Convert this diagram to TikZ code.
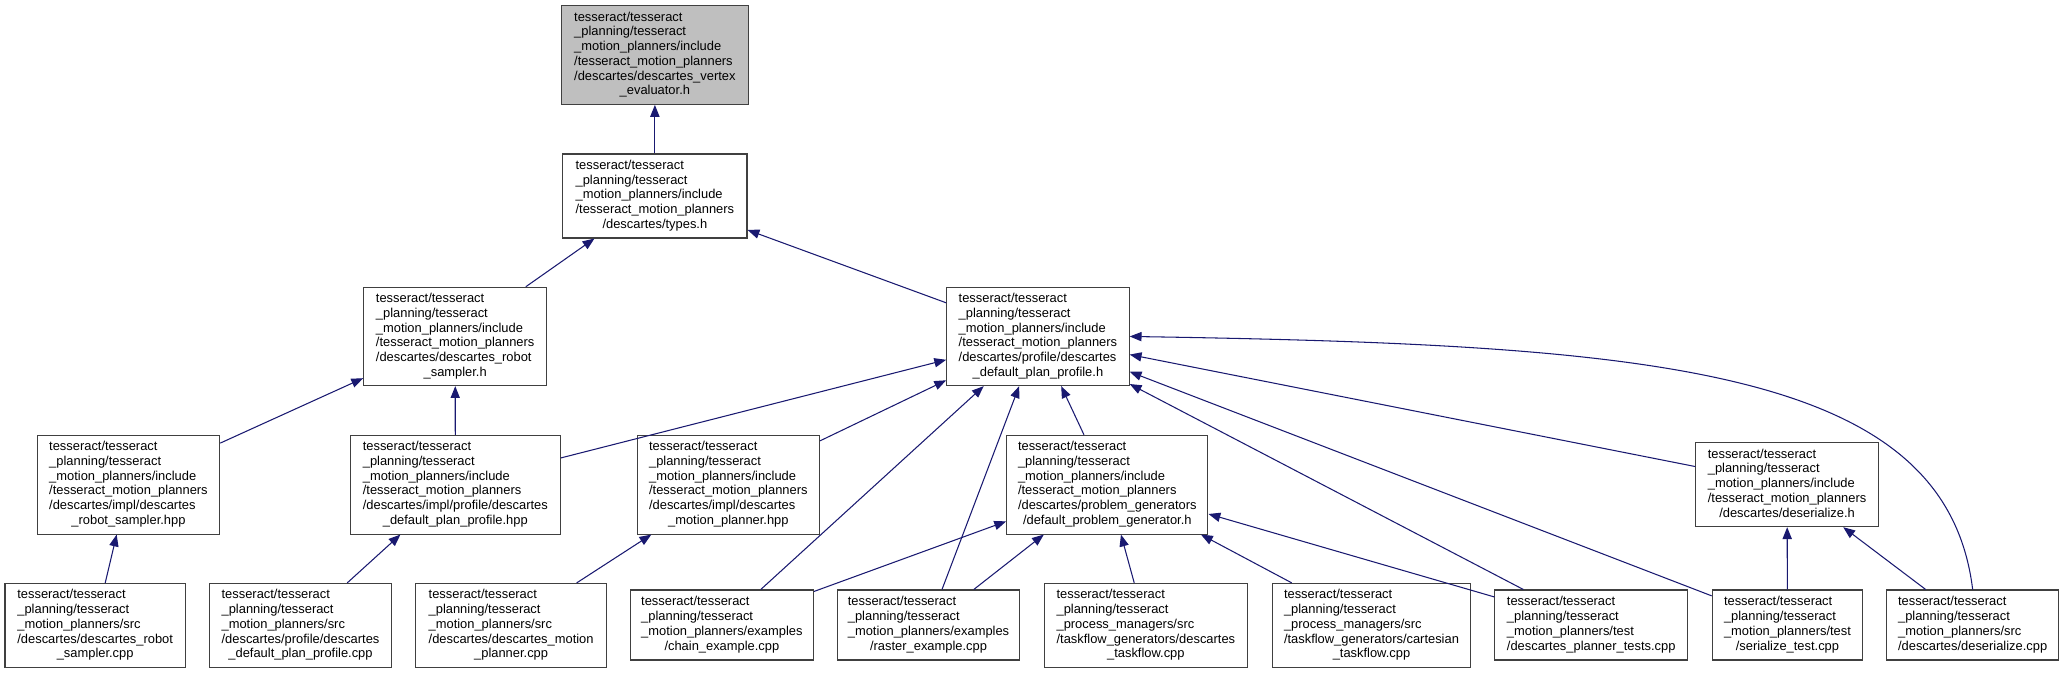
\documentclass[tikz,border=0pt]{standalone}
\usepackage{fontspec}
\setmainfont{Liberation Sans}
\usetikzlibrary{arrows.meta}
\definecolor{edgeblue}{HTML}{191970}
\definecolor{boxline}{HTML}{404040}
\definecolor{curfile}{HTML}{BFBFBF}
\newcommand{\flabel}[2]{\begin{tabular}{@{}l@{}}#1\\\multicolumn{1}{@{}c@{}}{#2}\end{tabular}}

\begin{document}
\begin{tikzpicture}[x=1pt, y=-1pt, font=\fontsize{9.8}{11.2}\selectfont]
    \tikzstyle{file} = [rectangle, draw=boxline, line width=0.8pt, fill=white, inner sep=0pt]
    \tikzstyle{inc} = [draw=edgeblue, line width=0.8pt, -{Triangle[length=9pt,width=7pt]}]

    \useasboundingbox (0,0) rectangle (1568,511);

    \node [file, fill=curfile, minimum width=141.8pt, minimum height=75pt] (evaluator) at (497.5,41.8) {\flabel{tesseract/tesseract\\\_planning/tesseract\\\_motion\_planners/include\\/tesseract\_motion\_planners\\/descartes/descartes\_vertex}{\_evaluator.h}};
    \node [file, minimum width=140pt, minimum height=63.8pt] (types) at (497.5,148.9) {\flabel{tesseract/tesseract\\\_planning/tesseract\\\_motion\_planners/include\\/tesseract\_motion\_planners}{/descartes/types.h}};

    \node [file, minimum width=139pt, minimum height=74.7pt] (sampler) at (345.8,255.6) {\flabel{tesseract/tesseract\\\_planning/tesseract\\\_motion\_planners/include\\/tesseract\_motion\_planners\\/descartes/descartes\_robot}{\_sampler.h}};
    \node [file, minimum width=138.6pt, minimum height=74.7pt] (planprofile) at (788.5,255.6) {\flabel{tesseract/tesseract\\\_planning/tesseract\\\_motion\_planners/include\\/tesseract\_motion\_planners\\/descartes/profile/descartes}{\_default\_plan\_profile.h}};

    \node [file, minimum width=138.6pt, minimum height=75pt] (implsampler) at (97.6,368.2) {\flabel{tesseract/tesseract\\\_planning/tesseract\\\_motion\_planners/include\\/tesseract\_motion\_planners\\/descartes/impl/descartes}{\_robot\_sampler.hpp}};
    \node [file, minimum width=159.6pt, minimum height=75pt] (implprofile) at (345.9,368.2) {\flabel{tesseract/tesseract\\\_planning/tesseract\\\_motion\_planners/include\\/tesseract\_motion\_planners\\/descartes/impl/profile/descartes}{\_default\_plan\_profile.hpp}};
    \node [file, minimum width=138.6pt, minimum height=75pt] (implplanner) at (553.3,368.2) {\flabel{tesseract/tesseract\\\_planning/tesseract\\\_motion\_planners/include\\/tesseract\_motion\_planners\\/descartes/impl/descartes}{\_motion\_planner.hpp}};
    \node [file, minimum width=152.9pt, minimum height=75pt] (problemgen) at (841.2,368.2) {\flabel{tesseract/tesseract\\\_planning/tesseract\\\_motion\_planners/include\\/tesseract\_motion\_planners\\/descartes/problem\_generators}{/default\_problem\_generator.h}};
    \node [file, minimum width=138.8pt, minimum height=63.8pt] (deserializeh) at (1357.6,368.2) {\flabel{tesseract/tesseract\\\_planning/tesseract\\\_motion\_planners/include\\/tesseract\_motion\_planners}{/descartes/deserialize.h}};

    \node [file, minimum width=137pt, minimum height=63.8pt] (samplercpp) at (72.3,475.1) {\flabel{tesseract/tesseract\\\_planning/tesseract\\\_motion\_planners/src\\/descartes/descartes\_robot}{\_sampler.cpp}};
    \node [file, minimum width=138.6pt, minimum height=63.8pt] (profilecpp) at (228.3,475.1) {\flabel{tesseract/tesseract\\\_planning/tesseract\\\_motion\_planners/src\\/descartes/profile/descartes}{\_default\_plan\_profile.cpp}};
    \node [file, minimum width=144.8pt, minimum height=63.8pt] (plannercpp) at (388.3,475.1) {\flabel{tesseract/tesseract\\\_planning/tesseract\\\_motion\_planners/src\\/descartes/descartes\_motion}{\_planner.cpp}};
    \node [file, minimum width=139.1pt, minimum height=53.2pt] (chainex) at (548.4,474.8) {\flabel{tesseract/tesseract\\\_planning/tesseract\\\_motion\_planners/examples}{/chain\_example.cpp}};
    \node [file, minimum width=138.3pt, minimum height=53.2pt] (rasterex) at (705.4,474.8) {\flabel{tesseract/tesseract\\\_planning/tesseract\\\_motion\_planners/examples}{/raster\_example.cpp}};
    \node [file, minimum width=154pt, minimum height=63.8pt] (desctaskflow) at (870.5,475.1) {\flabel{tesseract/tesseract\\\_planning/tesseract\\\_process\_managers/src\\/taskflow\_generators/descartes}{\_taskflow.cpp}};
    \node [file, minimum width=150.7pt, minimum height=63.8pt] (carttaskflow) at (1041.9,475.1) {\flabel{tesseract/tesseract\\\_planning/tesseract\\\_process\_managers/src\\/taskflow\_generators/cartesian}{\_taskflow.cpp}};
    \node [file, minimum width=146.2pt, minimum height=53.2pt] (plannertests) at (1208.8,474.8) {\flabel{tesseract/tesseract\\\_planning/tesseract\\\_motion\_planners/test}{/descartes\_planner\_tests.cpp}};
    \node [file, minimum width=114.4pt, minimum height=53.2pt] (serializetest) at (1357.9,474.8) {\flabel{tesseract/tesseract\\\_planning/tesseract\\\_motion\_planners/test}{/serialize\_test.cpp}};
    \node [file, minimum width=130.6pt, minimum height=53.2pt] (deserializecpp) at (1498.6,474.8) {\flabel{tesseract/tesseract\\\_planning/tesseract\\\_motion\_planners/src}{/descartes/deserialize.cpp}};

    \draw [inc] (types) -- (evaluator);
    \draw [inc] (sampler) -- (types);
    \draw [inc] (planprofile) -- (types);
    \draw [inc] (implsampler) -- (sampler);
    \draw [inc] (implprofile) -- (sampler);
    \draw [inc] (implprofile) -- (planprofile);
    \draw [inc] (implplanner) -- (planprofile);
    \draw [inc] (chainex) -- (planprofile);
    \draw [inc] (rasterex) -- (planprofile);
    \draw [inc] (problemgen) -- (planprofile);
    \draw [inc] (plannertests) -- (planprofile);
    \draw [inc] (serializetest) -- (planprofile);
    \draw [inc] (deserializeh) -- (planprofile);
    \draw [inc] (deserializecpp.north) .. controls (1478,280) and (1260,262) .. (planprofile.east);
    \draw [inc] (samplercpp) -- (implsampler);
    \draw [inc] (profilecpp) -- (implprofile);
    \draw [inc] (plannercpp) -- (implplanner);
    \draw [inc] (chainex) -- (problemgen);
    \draw [inc] (rasterex) -- (problemgen);
    \draw [inc] (desctaskflow) -- (problemgen);
    \draw [inc] (carttaskflow) -- (problemgen);
    \draw [inc] (plannertests) -- (problemgen);
    \draw [inc] (serializetest) -- (deserializeh);
    \draw [inc] (deserializecpp) -- (deserializeh);
\end{tikzpicture}
\end{document}
